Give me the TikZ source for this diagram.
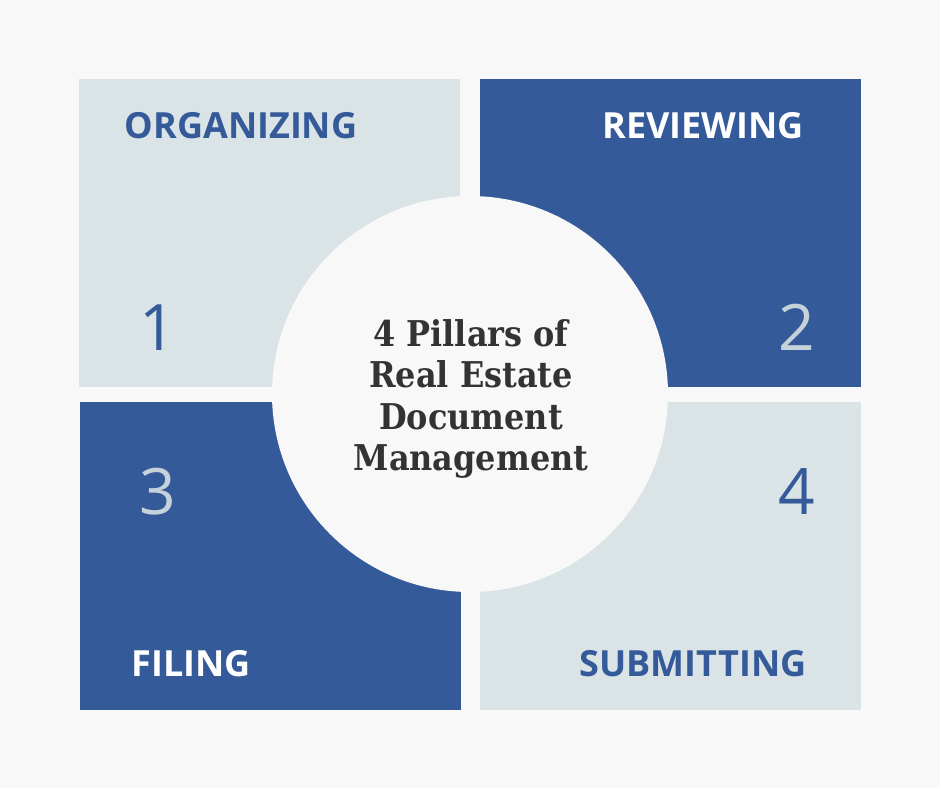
\documentclass[tikz,border=0pt]{standalone}
\usepackage{fontspec}
\usepackage{tikz}
\usetikzlibrary{positioning}
\usepackage{xcolor}

\newfontfamily\wordfont{Open Sans}
\newfontfamily\titlefont{DejaVu Serif Condensed}

\definecolor{bg}{HTML}{F8F8F8}
\definecolor{pale}{HTML}{DAE3E5}
\definecolor{navy}{HTML}{345A9A}
\definecolor{ink}{HTML}{333333}
\definecolor{mist}{HTML}{C5D2DA}

\begin{document}
\begin{tikzpicture}
    [x=1pt,y=-1pt,
    tile/.style={
      rectangle,
      minimum width=381pt,
      minimum height=308pt,
      inner sep=0pt,
      anchor=north west,
      fill=#1
      },
    tile/.default=pale,
    word/.style={font=\wordfont\bfseries\fontsize{36}{36}\selectfont, text=#1, anchor=base, inner sep=0pt},
    num/.style={font=\wordfont\fontsize{64}{64}\selectfont, text=#1, anchor=base, inner sep=0pt}]

    \fill[bg] (0,0) rectangle (940,788);
    \useasboundingbox (0,0) rectangle (940,788);

    \node (t1) [tile       ] at (79,79)   {}; \node (t2) [tile=navy] at (480,79)  {};
    \node (t3) [tile=navy  ] at (80,402)  {}; \node (t4) [tile     ] at (480,402) {};

    \node (hub) [circle, fill=bg, minimum size=396pt, inner sep=0pt] at (470,394) {};

    \node (w1) [word=navy] at (241,138) {ORGANIZING}; \node (w2) [word=white] at (703,138) {REVIEWING};
    \node (w3) [word=white] at (191,676) {FILING};    \node (w4) [word=navy]  at (693,676) {SUBMITTING};

    \node (n1) [num=navy] at (158,350) {1}; \node (n2) [num=mist] at (797,350) {2};
    \node (n3) [num=mist] at (158,514) {3}; \node (n4) [num=navy] at (797,514) {4};

    \node (title) [align=center, text=ink, font=\titlefont\bfseries\fontsize{35.5}{41.5}\selectfont] at (471,399)
      {4 Pillars of\\Real Estate\\Document\\Management};

  \end{tikzpicture}
\end{document}
